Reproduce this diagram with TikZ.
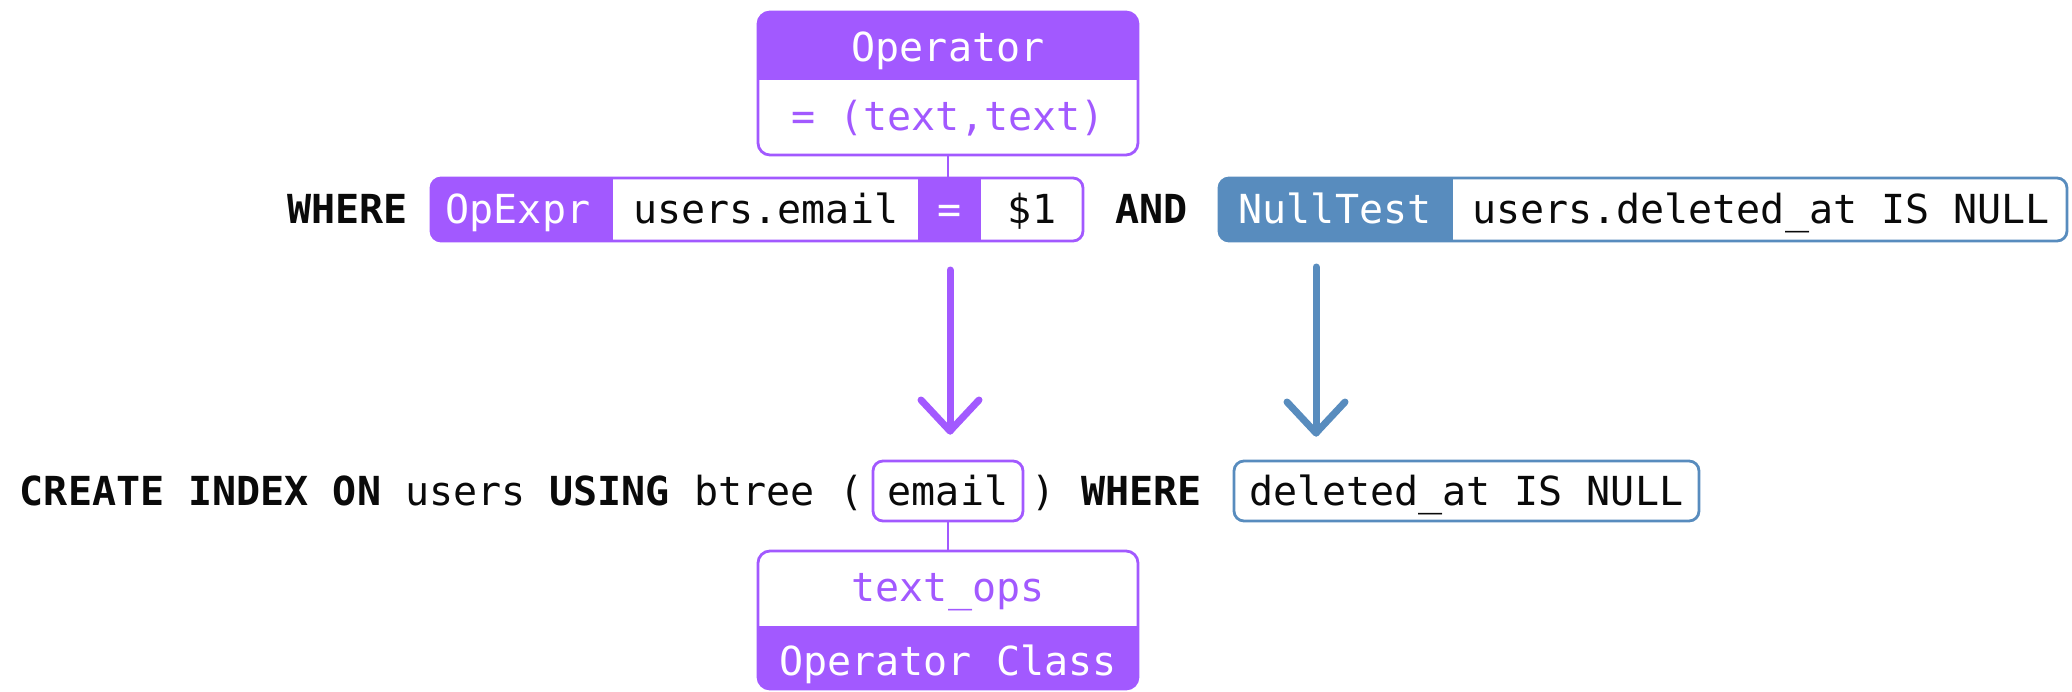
\documentclass[tikz,border=0pt]{standalone}
\usepackage{fontspec}
\setmainfont{DejaVu Sans Mono}
\setmonofont{DejaVu Sans Mono}
\usetikzlibrary{fit,calc}

\definecolor{opPurple}{HTML}{A259FF}
\definecolor{nullBlue}{HTML}{588CBE}
\definecolor{ink}{HTML}{0A0A0A}

\begin{document}
\begin{tikzpicture}[x=0.5pt,y=-0.5pt,
  every node/.style={font=\fontsize{20}{24}\selectfont, inner sep=0pt, text=ink},
  txt/.style={anchor=base},
  kw/.style={anchor=base, font=\fontsize{20}{24}\selectfont\bfseries},
  pframe/.style={draw=opPurple, line width=1.4pt, rounded corners=#1, inner sep=0pt},
  pframe/.default=6pt,
  bframe/.style={draw=nullBlue, line width=1.4pt, rounded corners=5pt, inner sep=0pt},
  link/.style={draw=opPurple, line width=1.4pt},
  flow/.style={line width=3.5pt, line cap=round, line join=round}]

\useasboundingbox (0,0) rectangle (2072,691);

% ---------- Operator card (top) ----------
\begin{scope}
  \clip[rounded corners=6pt] (758,12) rectangle (1138,155);
  \fill[opPurple] (758,12) rectangle (1138,80);
\end{scope}
\node[pframe, fit={(758,12) (1138,155)}] (operator) {};
\node[txt, text=white] (opname) at (948,61.5) {Operator};
\node[txt, text=opPurple] (opsig) at (948,130) {= (text,text)};

% ---------- WHERE clause ----------
\node[kw] (where1) at (347.5,223.5) {WHERE};

\begin{scope}
  \clip[rounded corners=5pt] (431,178) rectangle (1083,241);
  \fill[opPurple] (431,178) rectangle (613,241);
  \fill[opPurple] (918,178) rectangle (981,241);
\end{scope}
\node[pframe=5pt, fit={(431,178) (1083,241)}] (opexpr) {};
\node[txt, text=white] (opexprlbl) at (518,223.5) {OpExpr};
\node[txt] (lhs) at (765.8,223.5) {users.email};
\node[txt, text=white] (eqsign) at (949.5,223.5) {=};
\node[txt] (rhs) at (1032,223.5) {\$1};

\node[kw] (andkw) at (1151.7,223.5) {AND};

\begin{scope}
  \clip[rounded corners=5pt] (1219,178) rectangle (2067,241);
  \fill[nullBlue] (1219,178) rectangle (1453,241);
\end{scope}
\node[bframe, fit={(1219,178) (2067,241)}] (nulltest) {};
\node[txt, text=white] (nulltestlbl) at (1335,223.5) {NullTest};
\node[txt] (nullexpr) at (1761,223.5) {users.deleted\_at IS NULL};

\draw[link] (operator.south) -- (operator.south |- opexpr.north);

% ---------- arrows down to the index definition ----------
\coordinate (pTop) at (950,270);
\coordinate (pTip) at (950,431);
\coordinate (bTop) at (1316,267);
\coordinate (bTip) at (1316,433);
\draw[flow, opPurple] (pTop) -- (pTip);
\draw[flow, opPurple] ($(pTip)+(-29,-31)$) -- (pTip) -- ($(pTip)+(29,-31)$);
\draw[flow, nullBlue] (bTop) -- (bTip);
\draw[flow, nullBlue] ($(bTip)+(-29,-31)$) -- (bTip) -- ($(bTip)+(29,-31)$);

% ---------- CREATE INDEX statement ----------
\node[kw, anchor=base west] (create) at (19.5,505) {CREATE INDEX ON};
\node[txt, anchor=base west] (tbl) at (405,505) {users};
\node[kw, anchor=base west] (using) at (549,505) {USING};
\node[txt, anchor=base west] (method) at (694,505) {btree};
\node[txt] (lparen) at (852,505) {(};
\node[pframe=5pt, fit={(873,461) (1023,521)}] (emailbox) {};
\node[txt] (emailcol) at (948,505) {email};
\node[txt] (rparen) at (1044,505) {)};
\node[kw] (where2) at (1141.5,505) {WHERE};
\node[bframe, fit={(1234,461) (1699,521)}] (predbox) {};
\node[txt] (pred) at (1466.5,505) {deleted\_at IS NULL};

% ---------- Operator class card (bottom) ----------
\begin{scope}
  \clip[rounded corners=6pt] (758,551) rectangle (1138,689);
  \fill[opPurple] (758,626) rectangle (1138,689);
\end{scope}
\node[pframe, fit={(758,551) (1138,689)}] (opclass) {};
\node[txt, text=opPurple] (opclassname) at (948,601) {text\_ops};
\node[txt, text=white] (opclasslbl) at (948,675) {Operator Class};

\draw[link] (emailbox.south) -- (emailbox.south |- opclass.north);

\end{tikzpicture}
\end{document}
